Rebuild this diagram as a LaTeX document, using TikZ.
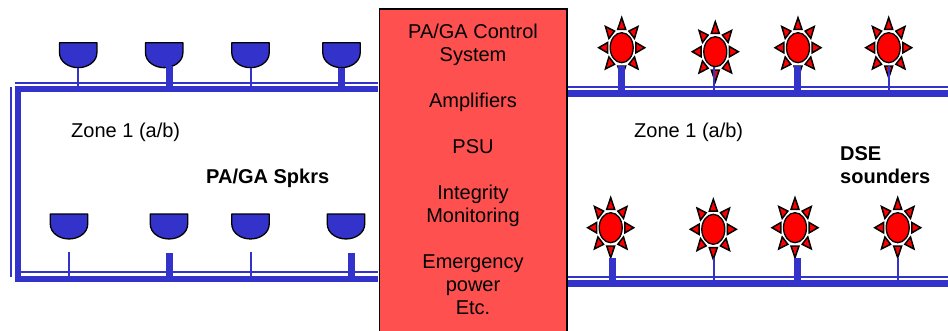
\documentclass[tikz,border=0pt]{standalone}
\usepackage{fontspec}
\setmainfont{Liberation Sans}
\usetikzlibrary{shapes.geometric,calc}

\definecolor{BusBlue}{HTML}{3333CC}
\definecolor{BoxRed}{HTML}{FF5050}

\tikzset{BusThick/.style = {draw=BusBlue, line width = 6.5pt},
         BusThin/.style = {draw=BusBlue, line width = 2pt},
         StemThick/.style = {draw=BusBlue, line width = 7pt},
         SpkrStyle/.style = {draw=black, fill=BusBlue, line width = 1.3pt, line join=round},
         RayStyle/.style = {draw=black, fill=red, line width = 1.5pt, line join=miter},
         ZoneText/.style = {font=\fontsize{20}{23}\selectfont, inner sep = 0},
         LabelText/.style = {font=\fontsize{20}{23}\selectfont\bfseries, inner sep = 0}}

% speaker: name, x, y of centre
\newcommand{\Speaker}[3]{
  \node[inner sep = 0, minimum width = 37pt, minimum height = 24.5pt] (#1) at (#2,#3) {};
  \draw[SpkrStyle] (#1.north west) -- (#1.north east) -- ++(0,10)
    .. controls +(0,9) and +(9.5,0) .. (#1.south)
    .. controls +(-9.5,0) and +(0,9) .. ($(#1.north west)+(0,10)$) -- cycle;
}
% sounder: name, x, y of centre
\newcommand{\Sounder}[3]{
  \foreach \a in {0,45,...,315}{
    \draw[RayStyle] ({#2+23*cos(\a)},{#3+30*sin(\a)})
      -- ({#2+23.5*(0.6*cos(\a)-0.17*sin(\a))},{#3+30.5*(0.6*sin(\a)+0.17*cos(\a))})
      -- ({#2+23.5*(0.6*cos(\a)+0.17*sin(\a))},{#3+30.5*(0.6*sin(\a)-0.17*cos(\a))})
      -- cycle;
  }
  \node[ellipse, draw=black, fill=red, line width = 1.3pt, inner sep = 0,
        minimum width = 23pt, minimum height = 30pt] (#1) at (#2,#3) {};
}

\begin{document}
\begin{tikzpicture}[x=1pt, y=-1pt]
\useasboundingbox (0,0) rectangle (948,330);

% control box, runs off the page at the bottom
\node[draw=black, fill=BoxRed, line width = 1.5pt, inner sep = 0,
      minimum width = 187.5pt, minimum height = 323pt] (Ctrl) at (473,170.5) {};
\node[align=center, inner sep = 0, font=\fontsize{20}{23}\selectfont] (CtrlText) at (473,169.2)
  {PA/GA Control\\System\\[23pt]Amplifiers\\[23pt]PSU\\[23pt]Integrity\\Monitoring\\[23pt]Emergency\\power\\Etc.};

% buses, left
\coordinate (LT) at (15,89);
\coordinate (LB) at (15,279);
\coordinate (LTt) at (15,82.5);
\coordinate (LBt) at (20,272);
\coordinate (LVa) at (18,86);
\coordinate (LVb) at (18,282);
\coordinate (LWa) at (10.5,87);
\coordinate (LWb) at (10.5,277);
\draw[BusThick, shorten >=0.75pt] (LT) -- (LT -| Ctrl.west);
\draw[BusThin, shorten >=0.75pt] (LTt) -- (LTt -| Ctrl.west);
\draw[BusThick, shorten >=0.75pt] (LB) -- (LB -| Ctrl.west);
\draw[BusThin, shorten >=0.75pt] (LBt) -- (LBt -| Ctrl.west);
\draw[BusThick, line width = 6pt] (LVa) -- (LVb);
\draw[BusThin] (LWa) -- (LWb);

% buses, right
\coordinate (RT) at (948,93.3);
\coordinate (RB) at (948,283.3);
\coordinate (RTt) at (948,87);
\coordinate (RBt) at (948,276.7);
\draw[BusThick, shorten <=0.75pt] (RT -| Ctrl.east) -- (RT);
\draw[BusThin, shorten <=0.75pt] (RTt -| Ctrl.east) -- (RTt);
\draw[BusThick, shorten <=0.75pt] (RB -| Ctrl.east) -- (RB);
\draw[BusThin, shorten <=0.75pt] (RBt -| Ctrl.east) -- (RBt);

% speakers, top
\Speaker{T1}{78.2}{55.2}
\Speaker{T2}{164.2}{55.2}
\Speaker{T3}{250.5}{55.2}
\Speaker{T4}{341.5}{55.2}
% speakers, bottom
\Speaker{B1}{69}{226.5}
\Speaker{B2}{169}{226.5}
\Speaker{B3}{250.5}{226.5}
\Speaker{B4}{346}{226.5}

% stems, the bottom row stops short of the speakers
\coordinate (t2) at (169,66);
\coordinate (b1) at (68.7,252);
\coordinate (b2) at (169,253);
\coordinate (b3) at (250.5,252);
\coordinate (b4) at (351,253);
\draw[BusThin] (T1.south) -- (T1.south |- LT);
\draw[StemThick] (t2) -- (t2 |- LT);
\draw[BusThin] (T3.south) -- (T3.south |- LT);
\draw[StemThick] (T4.south) -- (T4.south |- LT);
\draw[BusThin] (b1) -- (b1 |- LB);
\draw[StemThick] (b2) -- (b2 |- LB);
\draw[BusThin] (b3) -- (b3 |- LB);
\draw[StemThick] (b4) -- (b4 |- LB);

% sounders, top
\Sounder{U1}{621.7}{47.7}
\Sounder{U2}{715.3}{51.7}
\Sounder{U3}{798}{47.7}
\Sounder{U4}{888.7}{47.7}
% sounders, bottom
\Sounder{L1}{610.7}{227.7}
\Sounder{L2}{713.3}{229.3}
\Sounder{L3}{795}{227.7}
\Sounder{L4}{897.7}{227.7}

\coordinate (u1) at (621.7,66);
\coordinate (u2) at (714,67);
\coordinate (u3) at (797,66);
\coordinate (u4) at (888.7,66);
\coordinate (l1) at (612.7,258);
\coordinate (l2) at (714,258);
\coordinate (l3) at (797,258);
\coordinate (l4) at (897.7,258);
\draw[StemThick] (u1) -- (u1 |- RT);
\draw[BusThin] (u2) -- (u2 |- RT);
\draw[StemThick] (u3) -- (u3 |- RT);
\draw[BusThin] (u4) -- (u4 |- RT);
\draw[StemThick] (l1) -- (l1 |- RB);
\draw[BusThin] (l2) -- (l2 |- RB);
\draw[StemThick] (l3) -- (l3 |- RB);
\draw[BusThin] (l4) -- (l4 |- RB);

\node[ZoneText, anchor=west] (ZoneL) at (71,132) {Zone 1 (a/b)};
\node[ZoneText, anchor=west] (ZoneR) at (634,132) {Zone 1 (a/b)};
\node[LabelText, anchor=west] (SpkrLabel) at (206,178.5) {PA/GA Spkrs};
\node[LabelText, anchor=north west, align=left] (DseLabel) at (840,146) {DSE\\sounders};
\end{tikzpicture}
\end{document}
